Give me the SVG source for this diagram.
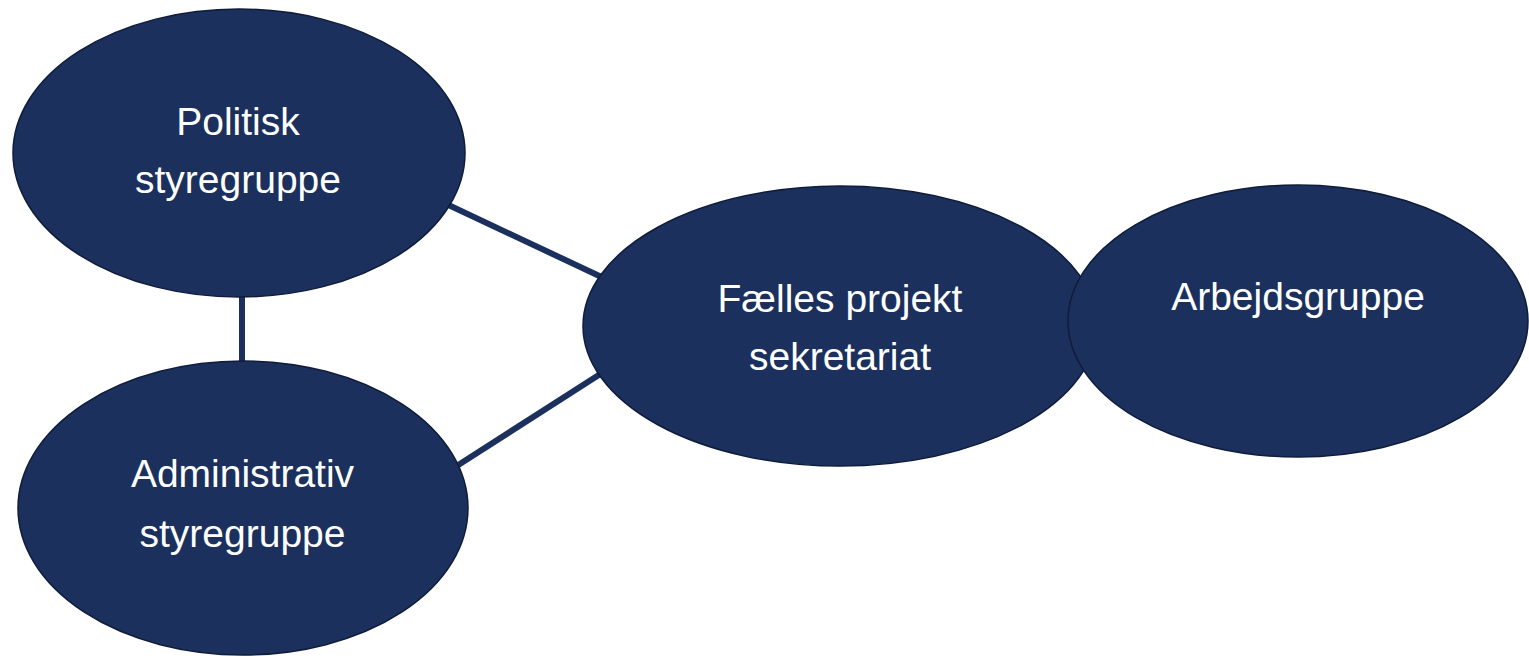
<svg xmlns="http://www.w3.org/2000/svg" width="1529" height="656" viewBox="0 0 1529 656">
<style>
.node ellipse{fill:#1b305d;stroke:#0f1c3a;stroke-width:1.5}
.node text{fill:#ffffff;font-family:"Liberation Sans",Arial,sans-serif;font-size:39px;text-anchor:middle}
.conn line{stroke:#1b305d;stroke-width:6;stroke-linecap:butt}
</style>
<rect width="1529" height="656" fill="#ffffff"/>
<g id="connectors" class="conn">
<line x1="440" y1="201" x2="610" y2="281"/>
<line x1="242" y1="290" x2="242" y2="368"/>
<line x1="452" y1="469" x2="605" y2="371"/>
</g>
<g id="politisk" class="node">
<ellipse cx="239" cy="153" rx="226" ry="144"/>
<text x="238" y="135">Politisk</text>
<text x="238" y="193">styregruppe</text>
</g>
<g id="administrativ" class="node">
<ellipse cx="243" cy="508" rx="225" ry="147"/>
<text x="242.5" y="487">Administrativ</text>
<text x="242.5" y="547">styregruppe</text>
</g>
<g id="faelles" class="node">
<ellipse cx="840" cy="326" rx="257" ry="140"/>
<text x="840" y="312">Fælles projekt</text>
<text x="840" y="370">sekretariat</text>
</g>
<g id="arbejdsgruppe" class="node">
<ellipse cx="1298" cy="321" rx="230" ry="136"/>
<text x="1298" y="310">Arbejdsgruppe</text>
</g>
</svg>
